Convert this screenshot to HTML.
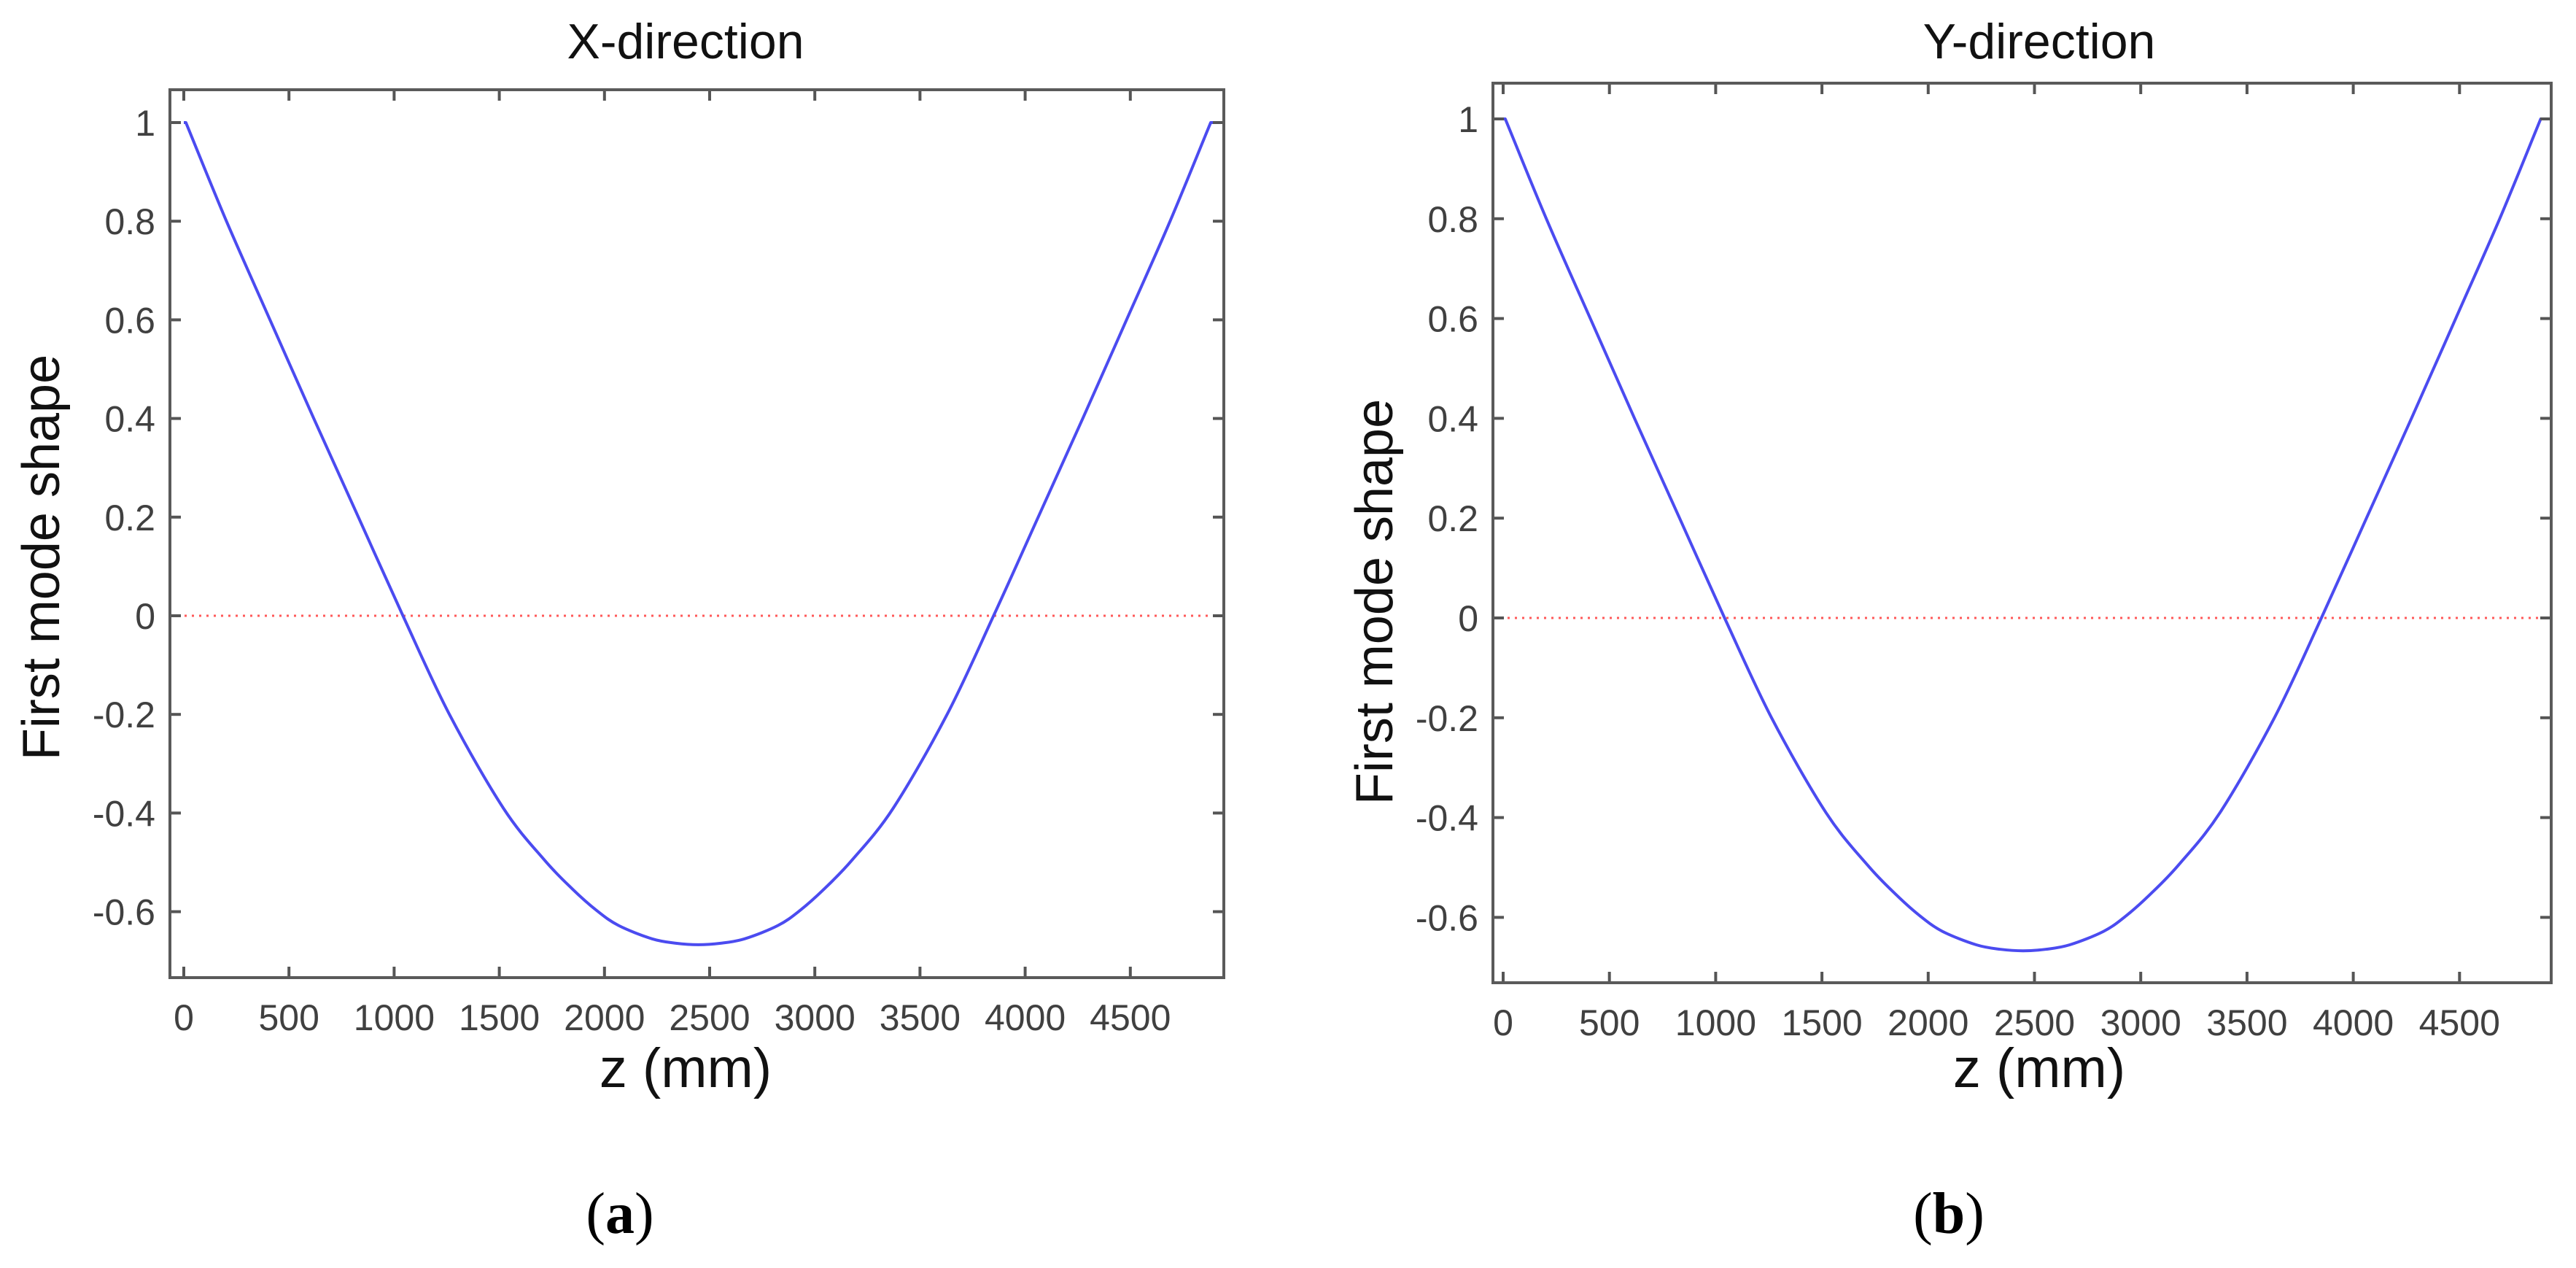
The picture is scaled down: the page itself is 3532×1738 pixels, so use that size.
<!DOCTYPE html>
<html><head><meta charset="utf-8"><style>
html,body{margin:0;padding:0;background:#fff;}
svg{display:block;}
</style></head><body>
<svg id="fig" width="3532" height="1738" viewBox="0 0 3532 1738" xmlns="http://www.w3.org/2000/svg"></svg>
<script>
// ---- data ----
const zValuesX = [0,10,203,410,618,830,1042,1263,1519,1714,1850,1961,2067,2226,2340,2446,2552,2666,2825,2931,3042,3178,3373,3629,3850,4062,4274,4482,4689,4882,4905];
const modeX    = [1,1,0.8,0.6,0.4,0.2,0,-0.2,-0.39,-0.495,-0.555,-0.597,-0.628,-0.655,-0.664,-0.667,-0.664,-0.655,-0.628,-0.597,-0.555,-0.495,-0.39,-0.2,0,0.2,0.4,0.6,0.8,1,1];
const zValuesY = [0,10,203,410,618,830,1042,1263,1519,1714,1850,1961,2067,2226,2340,2446,2552,2666,2825,2931,3042,3178,3373,3629,3850,4062,4274,4482,4689,4882,4905];
const modeY    = [1,1,0.8,0.6,0.4,0.2,0,-0.2,-0.39,-0.495,-0.555,-0.597,-0.628,-0.655,-0.664,-0.667,-0.664,-0.655,-0.628,-0.597,-0.555,-0.495,-0.39,-0.2,0,0.2,0.4,0.6,0.8,1,1];
const xTicks = [0,500,1000,1500,2000,2500,3000,3500,4000,4500];
const yTicks = [1,0.8,0.6,0.4,0.2,0,-0.2,-0.4,-0.6];
const yTickLabels = ["1","0.8","0.6","0.4","0.2","0","-0.2","-0.4","-0.6"];
const titles = ["X-direction","Y-direction"];
const captions = ["a","b"];

const NS = "http://www.w3.org/2000/svg";
const svg = document.getElementById('fig');
function mk(tag, attrs, parent){
  const e = document.createElementNS(NS, tag);
  for (const k in attrs) e.setAttribute(k, attrs[k]);
  (parent||svg).appendChild(e);
  return e;
}

function panel(p, zs, ys, title, cap, nm){
  const g = mk('g', {});
  
  
  const sx = v => p.x0 + v * p.kx;
  const sy = v => p.y0 - v * p.ky;
  const zl = mk('line', {x1:p.L, x2:p.R, y1:sy(0), y2:sy(0), stroke:'#ff5a5a', 'stroke-width':3, 'stroke-dasharray':'3 7'}, g);
  
  
  const P = zs.map((z,i) => [sx(z), sy(ys[i])]);
  const n = P.length;
  function tan(i){
    if (i <= 1) return [ (P[Math.min(i+1,n-1)][0]-P[i][0]), (P[Math.min(i+1,n-1)][1]-P[i][1]) ].map(v=>v*(i===0?0:1));
    if (i >= n-2) return [ (P[i][0]-P[i-1][0]), (P[i][1]-P[i-1][1]) ].map(v=>v*(i===n-1?0:1));
    return [(P[i+1][0]-P[i-1][0])/2, (P[i+1][1]-P[i-1][1])/2];
  }
  let d = 'M' + P[0][0].toFixed(1) + ' ' + P[0][1].toFixed(1);
  for (let i=0;i<n-1;i++){
    const p1 = P[i], p2 = P[i+1];
    if (i===0 || i===n-2){ d += 'L' + p2[0].toFixed(1) + ' ' + p2[1].toFixed(1); continue; }
    const t1 = tan(i), t2 = tan(i+1);
    const c1 = [p1[0]+t1[0]/3, p1[1]+t1[1]/3];
    const c2 = [p2[0]-t2[0]/3, p2[1]-t2[1]/3];
    d += 'C' + c1[0].toFixed(1)+' '+c1[1].toFixed(1)+' '+c2[0].toFixed(1)+' '+c2[1].toFixed(1)+' '+p2[0].toFixed(1)+' '+p2[1].toFixed(1);
  }
  const c = mk('path', {d:d, fill:'none', stroke:'#4b4bf0', 'stroke-width':4, 'stroke-linejoin':'round'}, g);
  
  
  const tg = mk('g', {stroke:'#555', 'stroke-width':4}, g);
  xTicks.forEach(t => {
    const x = sx(t);
    mk('line', {x1:x, x2:x, y1:p.B, y2:p.B-15}, tg);
    mk('line', {x1:x, x2:x, y1:p.T, y2:p.T+15}, tg);
    const tx = mk('text', {x:x, y:p.B+72, 'text-anchor':'middle', 'font-size':50, fill:'#404040', stroke:'none', 'font-family':'Liberation Sans, sans-serif'}, g);
    tx.textContent = String(t);
    
    
  });
  yTicks.forEach((t,i) => {
    const y = sy(t);
    mk('line', {x1:p.L, x2:p.L+15, y1:y, y2:y}, tg);
    mk('line', {x1:p.R, x2:p.R-15, y1:y, y2:y}, tg);
    const ty = mk('text', {x:p.L-20, y:y+18, 'text-anchor':'end', 'font-size':50, fill:'#404040', 'font-family':'Liberation Sans, sans-serif'}, g);
    ty.textContent = yTickLabels[i];
    
    
  });
  const b = mk('rect', {x:p.L, y:p.T, width:p.R-p.L, height:p.B-p.T, fill:'none', stroke:'#5a5a5a', 'stroke-width':4}, g);
  
  
  const tt = mk('text', {x:p.tx, y:80, 'text-anchor':'middle', 'font-size':68, fill:'#111', 'font-family':'Liberation Sans, sans-serif'}, g);
  tt.textContent = title;
  
  
  const xl = mk('text', {x:p.tx, y:1490, 'text-anchor':'middle', 'font-size':76, fill:'#111', 'font-family':'Liberation Sans, sans-serif'}, g);
  xl.textContent = 'z (mm)';
  
  
  const yl = mk('text', {x:0, y:0, 'text-anchor':'middle', 'font-size':72, fill:'#111', 'font-family':'Liberation Sans, sans-serif', transform:'translate(' + (p.ylx+25) + ',' + p.yly + ') rotate(-90)'}, g);
  yl.textContent = 'First mode shape';
  
  
  const cp = mk('text', {x:p.cx, y:1690, 'text-anchor':'middle', 'font-size':80, fill:'#000', 'font-family':'Liberation Serif, serif'}, g);
  
  
  const t1 = mk('tspan', {}, cp); t1.textContent = '(';
  const t2 = mk('tspan', {'font-weight':'bold'}, cp); t2.textContent = cap;
  const t3 = mk('tspan', {}, cp); t3.textContent = ')';
}

panel({L:233,R:1678,T:123,B:1340,x0:252,kx:144.2/500,y0:844,ky:135.2/0.2,tx:940,ylx:56,yly:764,cx:850},
      zValuesX, modeX, titles[0], captions[0], 'x-direction');
panel({L:2047,R:3498,T:114,B:1347,x0:2061,kx:145.7/500,y0:847,ky:136.8/0.2,tx:2796,ylx:1884,yly:825,cx:2672},
      zValuesY, modeY, titles[1], captions[1], 'y-direction');
</script>
</body></html>
